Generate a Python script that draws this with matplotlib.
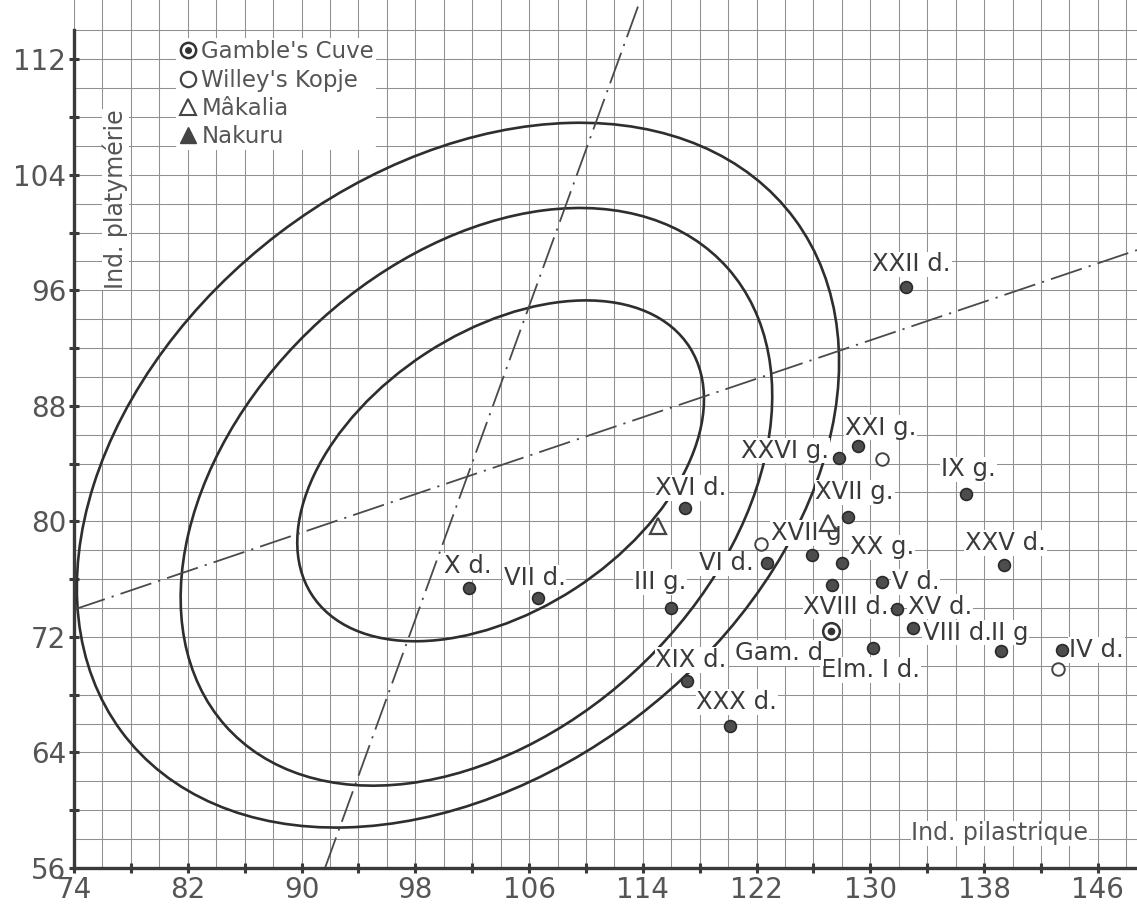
import numpy as np
import matplotlib
matplotlib.use("Agg")
import matplotlib.pyplot as plt
from matplotlib.patches import Ellipse
from matplotlib.lines import Line2D
from matplotlib.legend_handler import HandlerTuple

# --- data ---------------------------------------------------------------
fossil_names = ["X d.", "VII d.", "III g.", "XVI d.", "VI d.", "XVII g", "XX g.",
                "", "V d.", "XV d.", "VIII d.", "Elm. I d.", "II g", "IV d.",
                "XIX d.", "XXX d.", "XXV d.", "IX g.", "XXI g.", "XXVI g.",
                "XVII g.", "XXII d."]
fossil_x = [101.8, 106.6, 116.0, 117.0, 122.7, 125.9, 128.0,
            127.3, 130.8, 131.9, 133.0, 130.2, 139.2, 143.5,
            117.1, 120.1, 139.4, 136.7, 129.1, 127.8,
            128.4, 132.5]
fossil_y = [75.4, 74.7, 74.0, 80.9, 77.1, 77.7, 77.1,
            75.6, 75.8, 73.9, 72.6, 71.2, 71.0, 71.1,
            68.95, 65.8, 77.0, 81.9, 85.2, 84.4,
            80.3, 96.2]

gamble_x, gamble_y = [127.2], [72.4]
willey_x, willey_y = [122.3, 130.8, 143.2], [78.4, 84.3, 69.8]
makalia_x, makalia_y = [115.1, 127.0], [79.7, 79.9]
nakuru_x, nakuru_y = [], []

# label centres (data units)
label_pos = {
    "X d.": (101.7, 76.9), "VII d.": (106.4, 76.1), "III g.": (115.2, 75.8),
    "XVI d.": (117.4, 82.3), "VI d.": (119.9, 77.1), "XVII g": (125.5, 79.2),
    "XX g.": (130.8, 78.2), "V d.": (133.2, 75.8), "XVIII d.": (128.3, 74.1),
    "XV d.": (134.9, 74.1), "VIII d.": (136.1, 72.3), "II g": (139.8, 72.3),
    "IV d.": (145.9, 71.1), "Elm. I d.": (130.0, 69.7), "Gam. d": (123.6, 70.9),
    "XIX d.": (117.4, 70.4), "XXX d.": (120.6, 67.5), "XXV d.": (139.5, 78.5),
    "IX g.": (136.9, 83.6), "XXI g.": (130.7, 86.5), "XXVI g.": (124.0, 84.9),
    "XVII g.": (128.9, 82.0), "XXII d.": (132.9, 97.8),
}

# contour ellipses: centre x, centre y, half-width, half-height, correlation
ell_cx = [101.0, 102.3, 104.0]
ell_cy = [83.2, 81.7, 83.5]
ell_w = [26.8, 20.8, 14.3]
ell_h = [24.4, 20.0, 11.8]
ell_rho = [0.32, 0.35, 0.42]

# regression lines through the centre
reg_centre = (101.65, 83.1)
reg_slopes = [0.333, 2.71]

INK = "#3a3a3a"
GRID = "#909090"

fig = plt.figure(figsize=(11.37, 9.08), dpi=100)
ax = fig.add_axes([74 / 1137, 40 / 908, 1 - 74 / 1137, 868 / 908])
ax.set_xlim(74, 148.75)
ax.set_ylim(56, 116.1)

# grid
ax.set_xticks(np.arange(74, 149, 4))
ax.set_xticks(np.arange(74, 149, 2), minor=True)
ax.set_yticks(np.arange(56, 117, 4))
ax.set_yticks(np.arange(56, 117, 2), minor=True)
ax.set_xticklabels([str(v) if (v - 74) % 8 == 0 else "" for v in range(74, 149, 4)])
ax.set_yticklabels([str(v) if (v - 56) % 8 == 0 else "" for v in range(56, 117, 4)])
ax.grid(which="both", color=GRID, lw=0.75, zorder=0)
ax.set_axisbelow(True)
ax.tick_params(which="major", direction="inout", length=7, width=2.2, color=INK,
               labelsize=20, labelcolor="#555555", pad=2)
ax.tick_params(which="minor", length=0)
for s in ("top", "right"):
    ax.spines[s].set_visible(False)
for s in ("left", "bottom"):
    ax.spines[s].set_linewidth(2.4)
    ax.spines[s].set_color(INK)
ax.spines["left"].set_bounds(56, 114)
ax.yaxis.get_major_ticks()[-1].set_visible(False)

# ellipses
for cx, cy, w, h, r in zip(ell_cx, ell_cy, ell_w, ell_h, ell_rho):
    cov = np.array([[w * w, r * w * h], [r * w * h, h * h]])
    vals, vecs = np.linalg.eigh(cov)
    ang = np.degrees(np.arctan2(vecs[1, 1], vecs[0, 1]))
    ax.add_patch(Ellipse((cx, cy), 2 * np.sqrt(vals[1]), 2 * np.sqrt(vals[0]),
                         angle=ang, fill=False, ec="#2e2e2e", lw=1.9, zorder=2))

for sl in reg_slopes:
    ax.axline(reg_centre, slope=sl, color="#4a4a4a", lw=1.3,
              ls=(0, (18, 4, 1.2, 4)), zorder=2)

# points
ax.plot(fossil_x, fossil_y, "o", ms=8.5, mfc="#4d4d4d", mec="#2a2a2a", mew=1.2,
        ls="none", zorder=4)
ax.plot(willey_x, willey_y, "o", ms=9, mfc="white", mec="#444444", mew=1.4,
        ls="none", zorder=4)
ax.plot(makalia_x, makalia_y, "^", ms=11, mfc="white", mec="#444444", mew=1.6,
        ls="none", zorder=4)
ax.plot(gamble_x, gamble_y, "o", ms=12, mfc="white", mec="#333333", mew=1.8, zorder=4)
ax.plot(gamble_x, gamble_y, "o", ms=4.5, mfc="#333333", mec="#333333", zorder=5)
if nakuru_x:
    ax.plot(nakuru_x, nakuru_y, "^", ms=11, color="#444444", ls="none", zorder=4)

box = dict(fc="white", ec="none", pad=0.5)
for name, (lx, ly) in label_pos.items():
    ax.text(lx, ly, name, fontsize=17.5, color=INK, ha="center", va="center",
            bbox=box, zorder=3)

ax.text(76.9, 102.3, "Ind. platymérie", rotation=90, fontsize=17, color="#555555",
        ha="center", va="center", bbox=box, zorder=3)
ax.text(139.1, 58.4, "Ind. pilastrique", fontsize=17, color="#555555",
        ha="center", va="center", bbox=box, zorder=3)

# legend
h_gam = (Line2D([], [], marker="o", ms=11, mfc="white", mec="#333333", mew=1.8, ls="none"),
         Line2D([], [], marker="o", ms=4, mfc="#333333", mec="#333333", ls="none"))
h_wil = Line2D([], [], marker="o", ms=11, mfc="white", mec="#444444", mew=1.6, ls="none")
h_mak = Line2D([], [], marker="^", ms=12, mfc="white", mec="#444444", mew=1.5, ls="none")
h_nak = Line2D([], [], marker="^", ms=12, color="#444444", ls="none")
leg = ax.legend([h_gam, h_wil, h_mak, h_nak],
                ["Gamble's Cuve", "Willey's Kopje", "Mâkalia", "Nakuru"],
                handler_map={tuple: HandlerTuple(ndivide=1, pad=0)},
                loc="upper left", bbox_to_anchor=(0.096, 0.956), frameon=True,
                fontsize=16.5, labelspacing=0.22, handlelength=0.8, handletextpad=0.2,
                borderpad=0.1, borderaxespad=0)
leg.get_frame().set_edgecolor("none")
leg.get_frame().set_facecolor("white")
leg.get_frame().set_alpha(1)
for t in leg.get_texts():
    t.set_color("#555555")

fig.savefig("out.png", dpi=100)
